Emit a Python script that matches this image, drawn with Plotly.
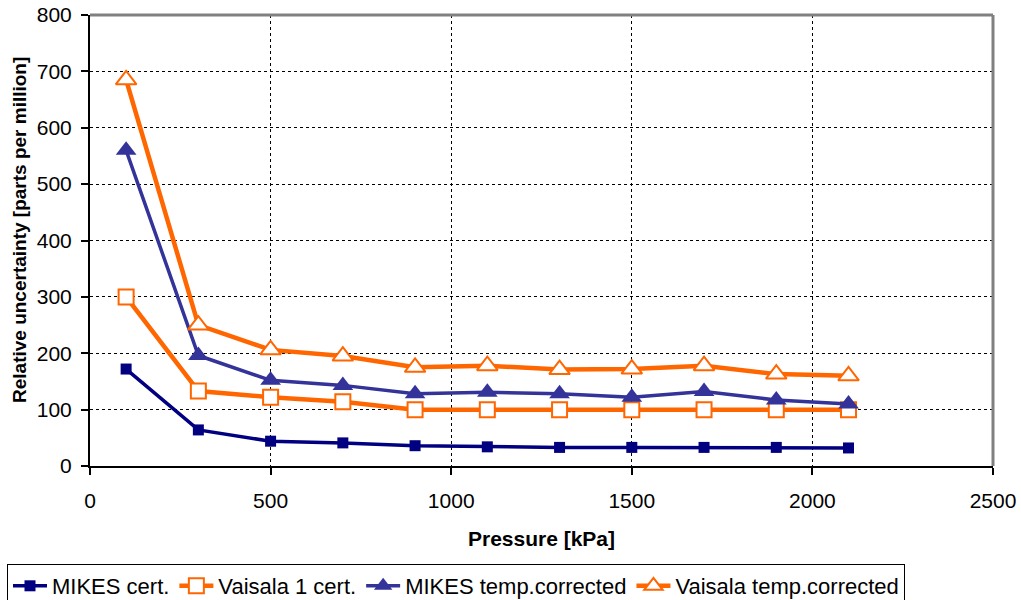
import plotly.graph_objects as go

pressure = [100, 300, 500, 700, 900, 1100, 1300, 1500, 1700, 1900, 2100]
mikes_cert = [172, 64, 44, 41, 36, 34, 33, 33, 33, 33, 32]
vaisala_cert = [300, 133, 122, 114, 100, 100, 100, 100, 100, 100, 100]
mikes_temp = [560, 196, 152, 143, 128, 131, 128, 122, 132, 117, 110]
vaisala_temp = [685, 250, 206, 195, 175, 178, 171, 172, 178, 163, 160]

names = ["MIKES cert.", "Vaisala 1 cert.", "MIKES temp.corrected", "Vaisala temp.corrected"]

fig = go.Figure()
fig.add_trace(go.Scatter(x=pressure, y=mikes_cert, name=names[0], mode="lines+markers",
                         line=dict(color="#000080", width=3.5),
                         marker=dict(symbol="square", size=11, color="#000080")))
fig.add_trace(go.Scatter(x=pressure, y=vaisala_cert, name=names[1], mode="lines+markers",
                         line=dict(color="#FF6600", width=4.5),
                         marker=dict(symbol="square", size=15, color="white",
                                     line=dict(color="#FF6600", width=2))))
fig.add_trace(go.Scatter(x=pressure, y=mikes_temp, name=names[2], mode="lines+markers",
                         line=dict(color="#333399", width=3.5),
                         marker=dict(symbol="triangle-up", size=18, color="#333399")))
fig.add_trace(go.Scatter(x=pressure, y=vaisala_temp, name=names[3], mode="lines+markers",
                         line=dict(color="#FF6600", width=4.5),
                         marker=dict(symbol="triangle-up", size=18, color="white",
                                     line=dict(color="#FF6600", width=2))))

font_family = "Liberation Sans, Arial, sans-serif"

fig.update_layout(
    width=1021, height=600,
    margin=dict(l=90, r=28, t=15, b=134),
    paper_bgcolor="white", plot_bgcolor="white",
    font=dict(family=font_family, size=21, color="black"),
    showlegend=True,
    legend=dict(orientation="h", xref="container", yref="container",
                x=7 / 1021, xanchor="left", y=1 - 564 / 600, yanchor="top",
                bordercolor="black", borderwidth=1, bgcolor="white",
                font=dict(size=22), itemwidth=34, tracegroupgap=0),
    xaxis=dict(range=[0, 2500], tickvals=[0, 500, 1000, 1500, 2000, 2500],
               showgrid=True, gridcolor="black", gridwidth=1, griddash="dot",
               showline=True, linecolor="black", linewidth=2,
               ticks="outside", tickcolor="black", ticklen=7, tickwidth=2,
               ticklabelstandoff=8, automargin="bottom", ticklabeloverflow="allow",
               zeroline=False, tickfont=dict(size=21),
               title=dict(text="<b>Pressure [kPa]</b>", font=dict(size=21), standoff=20)),
    yaxis=dict(range=[0, 800], tickvals=[0, 100, 200, 300, 400, 500, 600, 700, 800],
               showgrid=True, gridcolor="black", gridwidth=1, griddash="dot",
               showline=True, linecolor="black", linewidth=2,
               ticks="outside", tickcolor="black", ticklen=7, tickwidth=2,
               ticklabelstandoff=5, automargin="left",
               zeroline=False, tickfont=dict(size=21)),
    annotations=[
        dict(text="<b>Relative uncertainty [parts per million]</b>", textangle=-90,
             xref="paper", yref="paper", x=(19 - 90) / 903, y=(466 - 230) / 451,
             xanchor="center", yanchor="middle", showarrow=False,
             font=dict(size=19)),
    ],
    shapes=[
        dict(type="line", xref="paper", yref="paper", x0=0, x1=1, y0=1, y1=1,
             line=dict(color="#808080", width=3)),
        dict(type="line", xref="paper", yref="paper", x0=1, x1=1, y0=0, y1=1,
             line=dict(color="#808080", width=3)),
    ],
)

fig.write_html("out.html")
